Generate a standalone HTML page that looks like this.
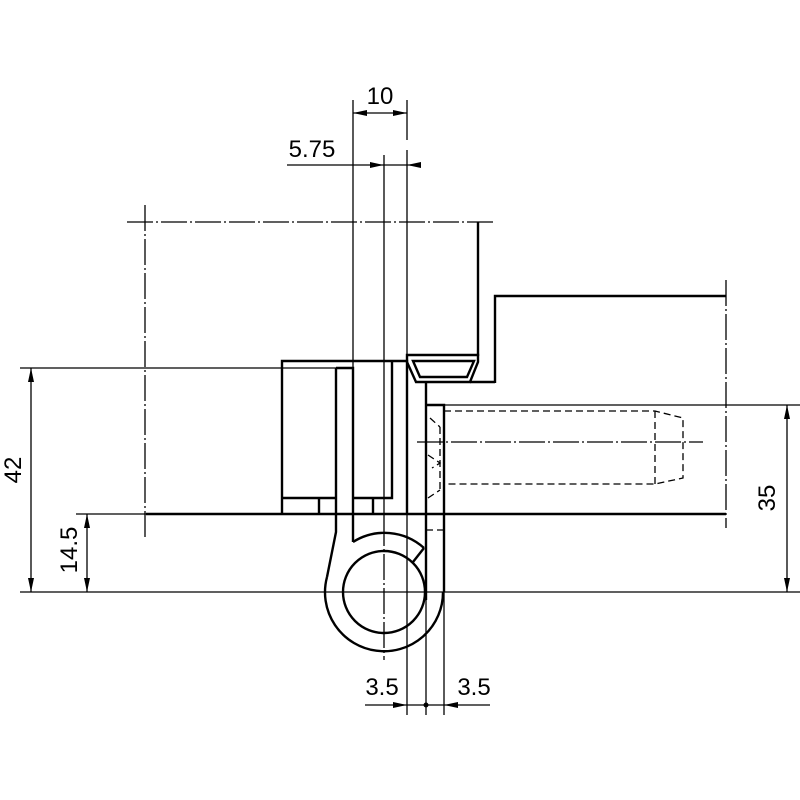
<!DOCTYPE html>
<html><head><style>html,body{margin:0;padding:0;background:#fff}svg{display:block}text{font-family:"Liberation Sans",sans-serif;font-size:24px;fill:#000}</style></head>
<body>
<svg width="800" height="800" viewBox="0 0 800 800" xmlns="http://www.w3.org/2000/svg">
<g stroke="#000" fill="none" stroke-width="1.3">
<g stroke-dasharray="26,3,2,3">
<line x1="127" y1="222" x2="495" y2="222"/>
<line x1="145" y1="205" x2="145" y2="537"/>
<line x1="726" y1="280" x2="726" y2="528"/>
<line x1="417" y1="442" x2="703" y2="442"/>
<line x1="384" y1="520" x2="384" y2="660"/>
</g>
<line x1="353" y1="100" x2="353" y2="370"/>
<line x1="407" y1="100" x2="407" y2="140"/>
<line x1="407" y1="150" x2="407" y2="715"/>
<line x1="384" y1="155" x2="384" y2="520"/>
<line x1="426" y1="600" x2="426" y2="715"/>
<line x1="444" y1="592" x2="444" y2="715"/>
<line x1="20" y1="368" x2="336" y2="368"/>
<line x1="76" y1="514" x2="146" y2="514"/>
<line x1="20" y1="592" x2="800" y2="592"/>
<line x1="444" y1="405" x2="800" y2="405"/>
<line x1="353" y1="113" x2="407" y2="113"/>
<line x1="287" y1="165" x2="420" y2="165"/>
<line x1="365" y1="705" x2="490" y2="705"/>
<line x1="31" y1="368" x2="31" y2="592"/>
<line x1="87" y1="514" x2="87" y2="592"/>
<line x1="787" y1="405" x2="787" y2="592"/>
</g>
<g fill="#000">
<polygon points="353,113 367,110 367,116"/><polygon points="407,113 393,110 393,116"/>
<polygon points="384,165 370,162 370,168"/><polygon points="407,165 421,162 421,168"/>
<polygon points="407,705 393,702 393,708"/><polygon points="444,705 458,702 458,708"/>
<circle cx="426" cy="705" r="2.5"/>
<polygon points="31,368 28,382 34,382"/><polygon points="31,592 28,578 34,578"/>
<polygon points="87,514 84,528 90,528"/><polygon points="87,592 84,578 90,578"/>
<polygon points="787,405 784,419 790,419"/><polygon points="787,592 784,578 790,578"/>
</g>
<g stroke="#000" fill="none" stroke-width="2.4">
<line x1="478" y1="222" x2="478" y2="356"/>
<polyline points="495,383 495,296 726,296"/>
<line x1="146" y1="514" x2="726" y2="514"/>
<polygon points="407,355 478,355 478,362 470,382 416,382 407,362"/>
<polygon points="413,361 474,361 467,377 420,377"/>
<line x1="470" y1="382" x2="495" y2="382"/>
<polyline points="282,514 282,361 407,361 407,514"/>
<polyline points="353,498 392,498 392,361"/>
<line x1="282" y1="498" x2="336" y2="498"/>
<line x1="319" y1="498" x2="319" y2="514"/>
<line x1="373" y1="498" x2="373" y2="514"/>
<polyline points="336,368 353,368 353,542"/>
<polyline points="336,368 336,532 327,577"/>
<path d="M353,542 A59,59 0 0 1 424,548"/>
<path d="M327,577 A59,59 0 1 0 443,592"/>
<circle cx="384" cy="592" r="41"/>
<line x1="424" y1="548" x2="413" y2="562"/>
<line x1="426" y1="382" x2="426" y2="600"/>
<polyline points="426,405 444,405 444,592"/>
</g>
<g stroke="#000" fill="none" stroke-width="1.3" stroke-dasharray="7,4">
<polyline points="444,411 655,411 683,418 683,478 655,484 444,484"/>
<line x1="655" y1="411" x2="655" y2="484"/>
<line x1="440" y1="427" x2="440" y2="492"/>
<line x1="426" y1="514" x2="444" y2="514"/>
<line x1="426" y1="530" x2="444" y2="530"/>
<polyline points="430,418 440,427"/><polyline points="428,455 440,463 432,468"/><polyline points="428,498 440,490"/>
</g>
<text x="380" y="104" text-anchor="middle">10</text>
<text x="312" y="157" text-anchor="middle">5.75</text>
<text x="382" y="695" text-anchor="middle">3.5</text>
<text x="474" y="695" text-anchor="middle">3.5</text>
<text transform="translate(21,470) rotate(-90)" text-anchor="middle">42</text>
<text transform="translate(77,550) rotate(-90)" text-anchor="middle">14.5</text>
<text transform="translate(775,498) rotate(-90)" text-anchor="middle">35</text>
</svg>
</body></html>
